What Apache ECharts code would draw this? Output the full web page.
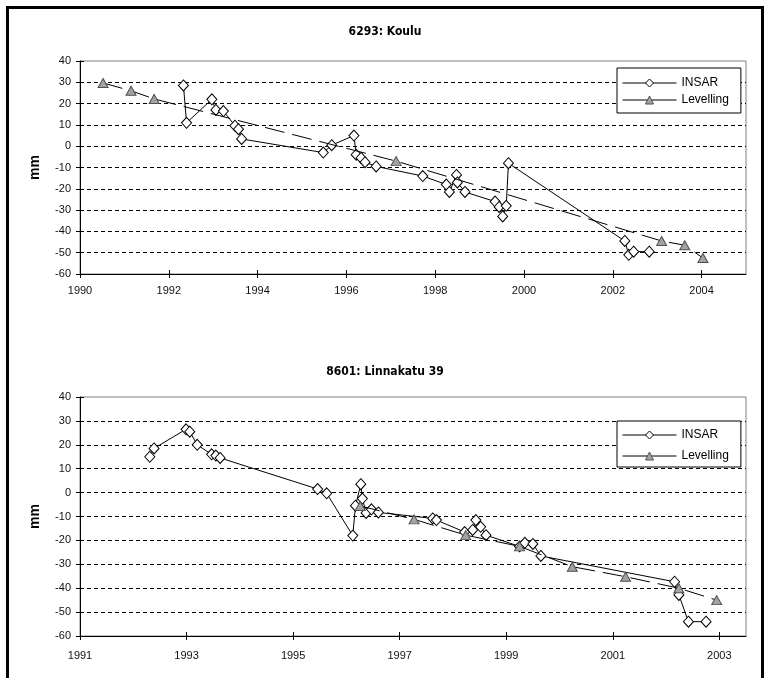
<!DOCTYPE html>
<html><head><meta charset="utf-8">
<script src="https://cdn.jsdelivr.net/npm/echarts@6/dist/echarts.min.js"></script>
<style>html,body{margin:0;padding:0;background:#fff;}#c{width:770px;height:678px;}</style>
</head><body><div id="c"></div>
<script>
// ---- data ----
const titles = ['6293: Koulu', '8601: Linnakatu 39'];
const seriesNames = ['INSAR', 'Levelling'];
const yTickValues = [-60, -50, -40, -30, -20, -10, 0, 10, 20, 30, 40];
const topYearTicks = [1990, 1992, 1994, 1996, 1998, 2000, 2002, 2004];
const botYearTicks = [1991, 1993, 1995, 1997, 1999, 2001, 2003];

// chart 1: 6293 Koulu
const kouluInsarYear = [1992.33, 1992.40, 1992.97, 1993.06, 1993.23, 1993.49, 1993.57, 1993.64, 1995.48, 1995.67,
  1996.17, 1996.22, 1996.33, 1996.42, 1996.67, 1997.72, 1998.25, 1998.32, 1998.48, 1998.50, 1998.67,
  1999.35, 1999.44, 1999.52, 1999.60, 1999.65, 2002.27, 2002.36, 2002.47, 2002.82];
const kouluInsarMm = [28.5, 11, 22, 17, 16.5, 9.6, 8, 3.4, -3, 0.5,
  5, -4, -5.5, -7.5, -9.5, -14, -18, -21.5, -13.5, -17, -21.5,
  -26, -28.5, -33, -28, -8, -44.5, -51, -49.5, -49.5];
const kouluLevYear = [1990.52, 1991.15, 1991.67, 1997.12, 2003.10, 2003.62, 2004.03];
const kouluLevMm = [29.7, 26, 22.2, -7, -44.5, -46.5, -52.5];

// chart 2: 8601 Linnakatu 39
const linnaInsarYear = [1992.31, 1992.39, 1992.99, 1993.06, 1993.20, 1993.47, 1993.55, 1993.63, 1995.46, 1995.63,
  1996.12, 1996.17, 1996.27, 1996.30, 1996.37, 1996.47, 1996.60, 1997.62, 1997.69, 1998.22, 1998.37,
  1998.43, 1998.52, 1998.62, 1999.25, 1999.35, 1999.50, 1999.65, 2002.16, 2002.24, 2002.42, 2002.75];
const linnaInsarMm = [15, 18.5, 26.5, 25.5, 20, 16, 15.5, 14.5, 1.5, -0.3,
  -18, -5.5, 3.5, -2.5, -8.5, -7, -8.3, -10.8, -11.5, -16.5, -15.6,
  -11.5, -14.3, -17.8, -22.5, -21, -21.5, -26.5, -37.3, -42.8, -54, -54];
const linnaLevYear = [1996.26, 1997.27, 1998.24, 1999.25, 2000.24, 2001.24, 2002.24, 2002.95];
const linnaLevMm = [-5.6, -11.2, -17.8, -22.5, -31, -35.2, -40, -45];

// ---- helpers ----
const FONT = "'Liberation Sans', Arial, Helvetica, sans-serif";
const TFONT = "'Liberation Sans Narrow', 'DejaVu Sans Condensed', Arial, sans-serif";
const pairs = (xs, ys) => xs.map((x, i) => [x, ys[i]]);

const grids = [
  { left: 80, right: 24, top: 61, height: 213 },
  { left: 80, right: 24, top: 397, height: 239 }
];
const xRanges = [[1990, 2005, topYearTicks, 11], [1991, 2003.5, botYearTicks, 14]];

const xAxes = [], yAxes = [];
grids.forEach((g, gi) => {
  const [mn, mx, ticks, lblMargin] = xRanges[gi];
  xAxes.push({
    type: 'value', gridIndex: gi, min: mn, max: mx, position: 'bottom',
    axisLine: { show: true, onZero: false, lineStyle: { color: '#000', width: 1 } },
    axisTick: { show: true, customValues: ticks, length: 4, lineStyle: { color: '#000' } },
    axisLabel: { customValues: ticks, color: '#111', fontSize: 11, fontFamily: FONT, margin: lblMargin,
      formatter: v => String(v) },
    splitLine: { show: false }
  });
  xAxes.push({
    type: 'value', gridIndex: gi, min: mn, max: mx, position: 'bottom',
    axisLine: { show: false, onZero: false },
    axisTick: { show: true, inside: true, customValues: ticks, length: 4, lineStyle: { color: '#000' } },
    axisLabel: { show: false }, splitLine: { show: false }
  });
  yAxes.push({
    type: 'value', gridIndex: gi, min: -60, max: 40, interval: 10, position: 'left',
    name: 'mm', nameLocation: 'middle', nameGap: 38, nameRotate: 90,
    nameTextStyle: { fontWeight: 'bold', fontSize: 14, fontFamily: FONT, color: '#000' },
    axisLine: { show: true, onZero: false, lineStyle: { color: '#000', width: 1 } },
    axisTick: { show: true, length: 4, lineStyle: { color: '#000' } },
    axisLabel: { color: '#111', fontSize: 11, fontFamily: FONT, margin: 9, formatter: v => String(v) },
    splitLine: { show: true, showMinLine: false, showMaxLine: false,
      lineStyle: { color: '#000', width: 1, type: [4, 3] } }
  });
  yAxes.push({
    type: 'value', gridIndex: gi, min: -60, max: 40, interval: 10, position: 'left',
    axisLine: { show: false, onZero: false },
    axisTick: { show: true, inside: true, length: 4, lineStyle: { color: '#000' } },
    axisLabel: { show: false }, splitLine: { show: false }
  });
});

function insarSeries(gi, xs, ys) {
  return {
    name: 'INSAR', type: 'line', xAxisIndex: gi * 2, yAxisIndex: gi * 2,
    data: pairs(xs, ys), symbol: 'diamond', symbolSize: [10, 11], showAllSymbol: true,
    itemStyle: { color: '#fff', borderColor: '#000', borderWidth: 1 },
    lineStyle: { color: '#000', width: 1 }, z: 2, silent: true
  };
}
function levSeries(gi, xs, ys) {
  return {
    name: 'Levelling', type: 'line', xAxisIndex: gi * 2, yAxisIndex: gi * 2,
    data: pairs(xs, ys), symbol: 'triangle', symbolSize: [10, 9], showAllSymbol: true,
    itemStyle: { color: '#a3a3a3', borderColor: '#505050', borderWidth: 1 },
    lineStyle: { color: '#000', width: 1, type: [20, 8] }, z: 3, silent: true
  };
}

function legendAt(top, pad, gap) {
  return {
    data: seriesNames, orient: 'vertical', left: 617, top: top,
    padding: pad, itemGap: gap, itemWidth: 54, itemHeight: 10,
    borderColor: '#000', borderWidth: 1, backgroundColor: '#fff',
    textStyle: { color: '#000', fontSize: 12, fontFamily: FONT },
    itemStyle: { borderWidth: 1 },
    lineStyle: { type: 'solid', width: 1 }, selectedMode: false
  };
}

const option = {
  animation: false,
  title: [
    { text: titles[0], left: 'center', top: 21, textStyle: { fontSize: 12, fontWeight: 'bold', color: '#000', fontFamily: TFONT } },
    { text: titles[1], left: 'center', top: 361, textStyle: { fontSize: 12, fontWeight: 'bold', color: '#000', fontFamily: TFONT } }
  ],
  legend: [legendAt(68, [9, 12, 7, 5], 5), legendAt(421, [8, 12, 5, 5], 9)],
  grid: grids.map(g => Object.assign({ show: true, borderColor: '#808080', borderWidth: 1, backgroundColor: 'transparent' }, g)),
  xAxis: xAxes,
  yAxis: yAxes,
  graphic: [{ type: 'rect', shape: { x: 7.5, y: 7.5, width: 755, height: 720 },
    style: { fill: null, stroke: '#000', lineWidth: 3 }, silent: true, z: 100 }],
  series: [
    insarSeries(0, kouluInsarYear, kouluInsarMm),
    levSeries(0, kouluLevYear, kouluLevMm),
    insarSeries(1, linnaInsarYear, linnaInsarMm),
    levSeries(1, linnaLevYear, linnaLevMm)
  ]
};
const chart = echarts.init(document.getElementById('c'));
chart.setOption(option);
</script></body></html>
